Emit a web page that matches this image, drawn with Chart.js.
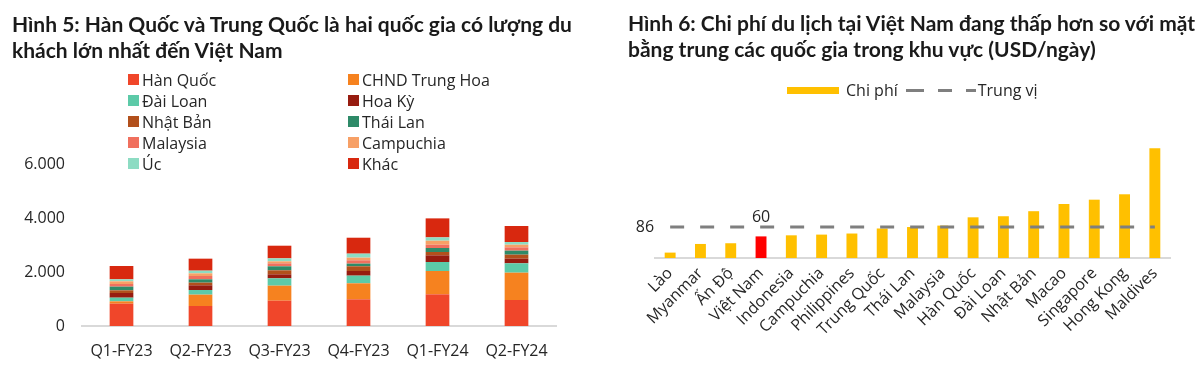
<!DOCTYPE html>
<html lang="vi">
<head>
<meta charset="utf-8">
<script src="https://cdn.jsdelivr.net/npm/chart.js@4"></script>
<style>
  html, body { margin: 0; padding: 0; background: #fff; }
  body { width: 1200px; height: 365px; position: relative; overflow: hidden; font-family: "Open Sans", sans-serif; color: #262626; }
  .panel { position: absolute; top: 0; width: 600px; height: 365px; }
  .panel canvas { position: absolute; left: 0; top: 0; }
  .title { position: absolute; font-family: Lato, sans-serif; font-weight: 700; font-size: 21px; line-height: 26px; color: #1a1a1a; white-space: nowrap; z-index: 2; }
  .legend5 { position: absolute; left: 128px; top: 69px; display: grid; grid-template-columns: 220px 200px; grid-auto-rows: 21px; font-size: 16px; z-index: 2; }
  .legend5 span.item { display: flex; align-items: center; white-space: nowrap; }
  .legend5 i { display: inline-block; width: 11px; height: 11px; margin-right: 3px; }
  .legend6 { position: absolute; left: 187px; top: 79px; display: flex; align-items: center; font-size: 16px; z-index: 2; }
  .legend6 .bar { width: 52px; height: 7px; margin-right: 7px; }
  .legend6 .dash { width: 70px; height: 3px; margin: 0 2px 0 8px;
    background: repeating-linear-gradient(to right, #7f7f7f 0 14px, transparent 14px 28px); background-position: 4px 0; }
</style>
</head>
<body>
<div class="panel" style="left:0">
  <div class="title" style="left:12px; top:11px">Hình 5: Hàn Quốc và Trung Quốc là hai quốc gia có lượng du<br>khách lớn nhất đến Việt Nam</div>
  <div class="legend5" id="legend5"></div>
  <canvas id="visitorChart" width="600" height="365"></canvas>
</div>
<div class="panel" style="left:600px">
  <div class="title" style="left:28px; top:10px">Hình 6: Chi phí du lịch tại Việt Nam đang thấp hơn so với mặt<br>bằng trung các quốc gia trong khu vực (USD/ngày)</div>
  <div class="legend6" id="legend6"></div>
  <canvas id="costChart" width="600" height="365"></canvas>
</div>

<script>
// Hình 5: visitor arrivals by quarter (thousand), stacked bottom to top
const quarters = ["Q1-FY23", "Q2-FY23", "Q3-FY23", "Q4-FY23", "Q1-FY24", "Q2-FY24"];
const hanQuoc = [827, 741, 938, 988, 1173, 963];
const trungHoa = [86, 420, 556, 593, 864, 1012];
const daiLoan = [136, 173, 272, 284, 333, 346];
const hoaKy = [173, 173, 148, 173, 247, 173];
const nhatBan = [99, 99, 148, 173, 123, 148];
const thaiLan = [136, 123, 148, 99, 148, 148];
const malaysia = [99, 123, 110, 123, 123, 123];
const campuchia = [99, 99, 75, 99, 148, 99];
const uc = [74, 99, 110, 148, 123, 99];
const khac = [494, 444, 469, 590, 704, 593];
const visitorTicks = [0, 2000, 4000, 6000];

// Hình 6: travel cost per day (USD)
const countries = ["Lào", "Myanmar", "Ấn Độ", "Việt Nam", "Indonesia", "Campuchia", "Philippines", "Trung Quốc",
  "Thái Lan", "Malaysia", "Hàn Quốc", "Đài Loan", "Nhật Bản", "Macao", "Singapore", "Hong Kong", "Maldives"];
const costs = [15, 39, 41, 60, 63, 65, 68, 82, 86, 90, 113, 116, 130, 150, 162, 177, 305];
const medianCost = 86;

const TEXT = "#262626";
const FONT = "'Open Sans', sans-serif";

/**
 * Stacked bar chart of visitors
 */
function initVisitorChart() {
  const series = [
    { label: "Hàn Quốc", data: hanQuoc, color: "#f0462a" },
    { label: "CHND Trung Hoa", data: trungHoa, color: "#f6821f" },
    { label: "Đài Loan", data: daiLoan, color: "#5ccaa8" },
    { label: "Hoa Kỳ", data: hoaKy, color: "#971c10" },
    { label: "Nhật Bản", data: nhatBan, color: "#b2501c" },
    { label: "Thái Lan", data: thaiLan, color: "#2e8a68" },
    { label: "Malaysia", data: malaysia, color: "#f0705e" },
    { label: "Campuchia", data: campuchia, color: "#f7a066" },
    { label: "Úc", data: uc, color: "#8ddcc3" },
    { label: "Khác", data: khac, color: "#d8280f" },
  ];

  // HTML legend in two columns, row by row
  const legend = document.getElementById("legend5");
  series.forEach((s) => {
    const item = document.createElement("span");
    item.className = "item";
    item.innerHTML = `<i style="background:${s.color}"></i>${s.label}`;
    legend.appendChild(item);
  });

  new Chart(document.getElementById("visitorChart"), {
    type: "bar",
    data: {
      labels: quarters,
      datasets: series.map((s) => ({
        label: s.label,
        data: s.data,
        backgroundColor: s.color,
        borderWidth: 0,
        barPercentage: 0.3,
        categoryPercentage: 1,
      })),
    },
    options: {
      responsive: false,
      animation: false,
      layout: { padding: { top: 164, right: 44, left: 0, bottom: 0 } },
      plugins: { legend: { display: false }, tooltip: { enabled: false } },
      scales: {
        x: {
          stacked: true,
          grid: { display: false, drawTicks: false },
          border: { display: true, color: "#d9d9d9", width: 2 },
          ticks: { color: TEXT, font: { family: FONT, size: 16 }, padding: 16, maxRotation: 0 },
          afterFit(scale) { scale.height = 39; },
        },
        y: {
          stacked: true,
          min: 0,
          max: 6000,
          grid: { display: false, drawTicks: false },
          border: { display: false },
          afterBuildTicks(scale) { scale.ticks = visitorTicks.map((v) => ({ value: v })); },
          ticks: {
            color: TEXT,
            font: { family: FONT, size: 16 },
            padding: 17,
            callback: (value) => value.toLocaleString("de-DE"),
          },
          afterFit(scale) { scale.width = 82; },
        },
      },
    },
  });
}

/**
 * Bar chart of travel costs with median line
 */
function initCostChart() {
  const yellow = "#ffc000";
  const red = "#ff0000";
  const grey = "#7f7f7f";

  const legend = document.getElementById("legend6");
  legend.innerHTML = `<span class="bar" style="background:${yellow}"></span>Chi phí<span class="dash"></span>Trung vị`;

  // Value labels: median on the left of the dashed line, Việt Nam above its bar
  const valueLabels = {
    id: "valueLabels",
    afterDatasetsDraw(chart) {
      const ctx = chart.ctx;
      const first = chart.getDatasetMeta(1).data[0];
      const vnIndex = countries.indexOf("Việt Nam");
      const vn = chart.getDatasetMeta(0).data[vnIndex];
      ctx.save();
      ctx.font = `16px ${FONT}`;
      ctx.fillStyle = TEXT;
      ctx.textAlign = "right";
      ctx.textBaseline = "middle";
      ctx.fillText(String(medianCost), first.x - 16, first.y);
      ctx.textAlign = "center";
      ctx.fillText(String(costs[vnIndex]), vn.x, vn.y - 19);
      ctx.restore();
    },
  };

  new Chart(document.getElementById("costChart"), {
    type: "bar",
    data: {
      labels: countries,
      datasets: [
        {
          label: "Chi phí",
          data: costs,
          backgroundColor: countries.map((c) => (c === "Việt Nam" ? red : yellow)),
          borderWidth: 0,
          barPercentage: 0.36,
          categoryPercentage: 1,
          order: 2,
        },
        {
          type: "line",
          label: "Trung vị",
          data: countries.map(() => medianCost),
          borderColor: grey,
          borderWidth: 3,
          borderDash: [14, 16],
          pointRadius: 0,
          fill: false,
          order: 1,
        },
      ],
    },
    options: {
      responsive: false,
      animation: false,
      layout: { padding: { top: 132, right: 30, left: 55, bottom: 0 } },
      plugins: { legend: { display: false }, tooltip: { enabled: false } },
      scales: {
        x: {
          grid: { display: false, drawTicks: false },
          border: { display: true, color: "#d9d9d9", width: 2 },
          ticks: {
            color: TEXT,
            font: { family: FONT, size: 16 },
            padding: 6,
            minRotation: 45,
            maxRotation: 45,
            autoSkip: false,
          },
          afterFit(scale) { scale.height = 107; },
        },
        y: {
          display: false,
          min: 0,
          max: 350,
        },
      },
    },
    plugins: [valueLabels],
  });
}

initVisitorChart();
initCostChart();
</script>
</body>
</html>
